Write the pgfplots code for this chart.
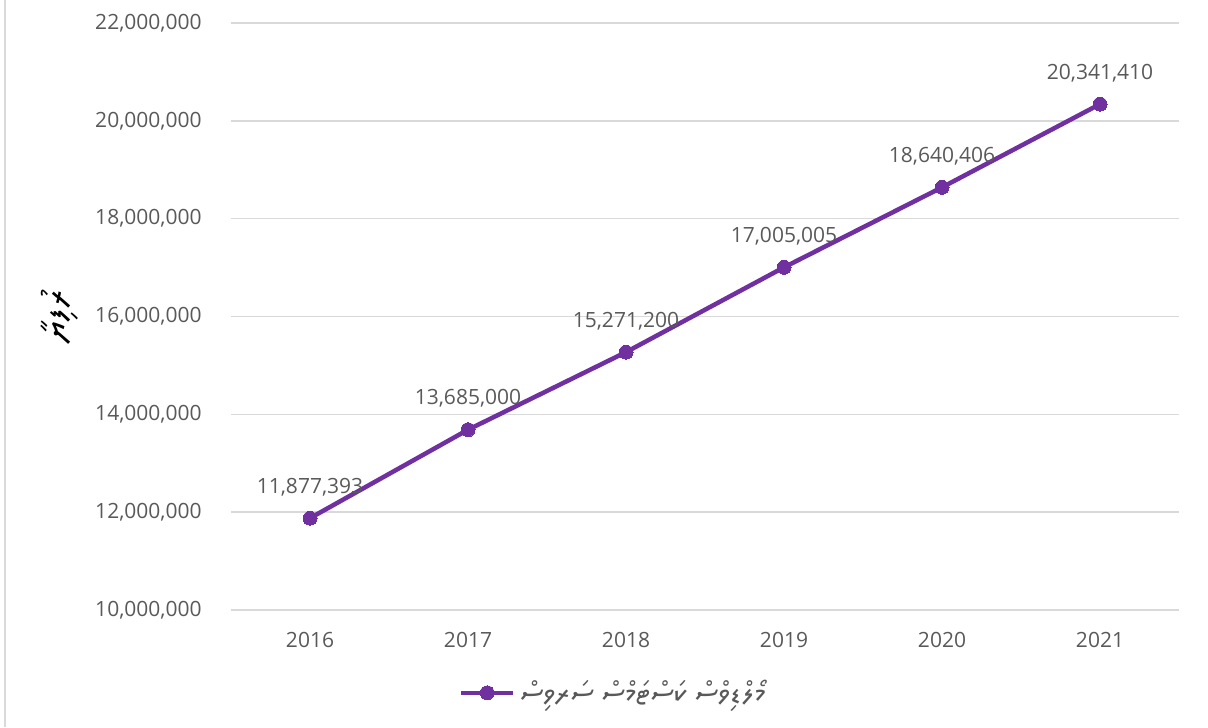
\documentclass[border=0pt]{standalone}
\usepackage{pgfplots}
\pgfplotsset{compat=1.18}
\usepackage{fontspec}
\setmainfont{Open Sans}
\TeXXeTstate=1
\IfFontExistsTF{Noto Sans Thaana}{\newfontfamily\thaana[Script=Thaana]{Noto Sans Thaana}}{\IfFontExistsTF{FreeSerif}{\newfontfamily\thaana[Script=Thaana]{FreeSerif}}{\newfontfamily\thaana{DejaVu Sans}}}
\definecolor{txt}{HTML}{595959}
\definecolor{gridc}{HTML}{D9D9D9}
\definecolor{purp}{HTML}{7030A0}
\pgfplotstableread{
x y label
0 11877393 11,877,393
1 13685000 13,685,000
2 15271200 15,271,200
3 17005005 17,005,005
4 18640406 18,640,406
5 20341410 20,341,410
}\datatab
\begin{document}
\begin{tikzpicture}[x=1pt,y=1pt]
\useasboundingbox (0,0) rectangle (604,363.5);
\draw[gridc, line width=0.75pt] (2.5,0) -- (2.5,363.5);
\begin{axis}[
  at={(115.5pt,58.5pt)}, anchor=south west,
  scale only axis, width=474pt, height=293.5pt,
  xmin=-0.5, xmax=5.5, ymin=10000000, ymax=22000000,
  xtick={0,...,5}, xticklabels={2016,2017,2018,2019,2020,2021},
  ytick={10000000,12000000,14000000,16000000,18000000,20000000,22000000},
  scaled y ticks=false,
  yticklabel={\pgfmathprintnumber[fixed,precision=0,1000 sep={,}]{\tick}},
  /pgf/number format/assume math mode=true,
  axis line style={draw=none},
  major tick length=0pt,
  xmajorgrids=false, ymajorgrids=true,
  major grid style={draw=gridc, line width=0.75pt},
  tick label style={font=\fontsize{10.5}{12}\selectfont, text=txt, inner sep=0pt},
  yticklabel style={anchor=east, xshift=-14.5pt},
  xticklabel style={anchor=center, yshift=-15pt},
  ylabel={\thaana\beginR ރުފިޔާ\endR},
  ylabel style={at={(axis description cs:-0.1804,0.5)}, anchor=center, font=\fontsize{18}{20}\selectfont, text=black},
  legend style={draw=none, fill=none, at={(0.404,-0.141)}, anchor=center, font=\fontsize{15}{17}\selectfont, text=txt},
  legend image code/.code={\draw[mark repeat=2,mark phase=2,#1] plot coordinates {(0pt,0pt) (13pt,0pt) (26pt,0pt)};},
  clip=false,
]
\addplot[purp, line width=2.25pt, mark=*, mark size=3.5pt, mark options={fill=purp, draw=purp, line width=0pt},
  point meta=explicit symbolic,
  nodes near coords,
  nodes near coords style={anchor=center, yshift=15.5pt, font=\fontsize{10.5}{12}\selectfont, text=txt}]
  table[x=x, y=y, meta=label] {\datatab};
\addlegendentry{\thaana\beginR މޯލްޑިވްސް ކަސްޓަމްސް ސަރވިސް\endR}
\end{axis}
\end{tikzpicture}
\end{document}
